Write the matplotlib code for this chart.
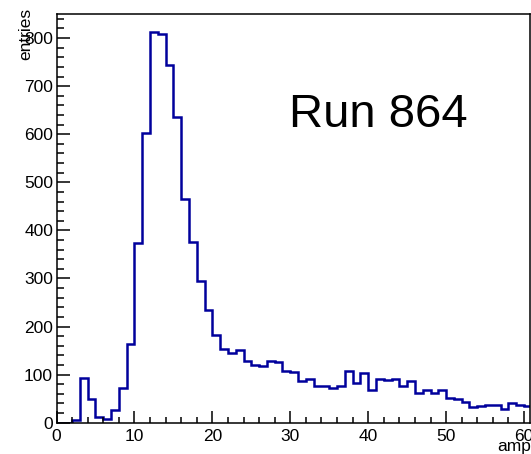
import numpy as np
import matplotlib
matplotlib.use("Agg")
import matplotlib.pyplot as plt
from matplotlib.ticker import MultipleLocator

plt.rcParams['font.family'] = ['Liberation Sans', 'DejaVu Sans']

# histogram of amplitudes, 1 unit bins starting at 0
bin_edges = np.arange(0, 62, 1)
entries = [0, 0, 5, 94, 49, 11, 8, 26, 72, 164,
           373, 602, 812, 808, 744, 635, 465, 376, 295, 234,
           183, 153, 145, 151, 129, 121, 118, 128, 127, 108,
           105, 86, 91, 77, 77, 72, 76, 107, 83, 103,
           69, 91, 89, 90, 76, 86, 62, 68, 61, 68,
           52, 49, 44, 33, 35, 37, 37, 28, 40, 37,
           34]
run_label = "Run 864"
x_title = "amplitude"
y_title = "entries"

W, H = 531, 454
fig = plt.figure(figsize=(W / 100, H / 100), dpi=100)
ax = fig.add_axes([56.5 / W, 1 - 422.7 / H, (529.5 - 56.5) / W, (422.7 - 14) / H])

ax.stairs(entries, bin_edges, color='#00009c', linewidth=1.8)

ax.set_xlim(0, 60.7)
ax.set_ylim(0, 850)
ax.xaxis.set_major_locator(MultipleLocator(10))
ax.xaxis.set_minor_locator(MultipleLocator(2))
ax.yaxis.set_major_locator(MultipleLocator(100))
ax.yaxis.set_minor_locator(MultipleLocator(20))
ax.tick_params(which='both', direction='in', top=False, right=False,
               labelsize=12.5, colors='black', width=1.1)
ax.tick_params(axis='x', which='major', length=9, pad=4.5)
ax.tick_params(axis='x', which='minor', length=4.5)
ax.tick_params(axis='y', which='major', length=9.5, pad=2.5)
ax.tick_params(axis='y', which='minor', length=5)
for s in ax.spines.values():
    s.set_linewidth(1.1)
    s.set_color('black')

fig.text(289 / W, 1 - 127 / H, run_label, fontsize=34, ha='left', va='baseline')

# axis titles, ROOT style (aligned to the axis ends)
fig.text(497 / W, 2.7 / H, x_title, fontsize=12.5, ha='left', va='baseline')
fig.text(30 / W, 1 - 8 / H, y_title, fontsize=12.5, rotation=90,
         rotation_mode='anchor', ha='right', va='baseline')

fig.savefig('out.png', dpi=100)
